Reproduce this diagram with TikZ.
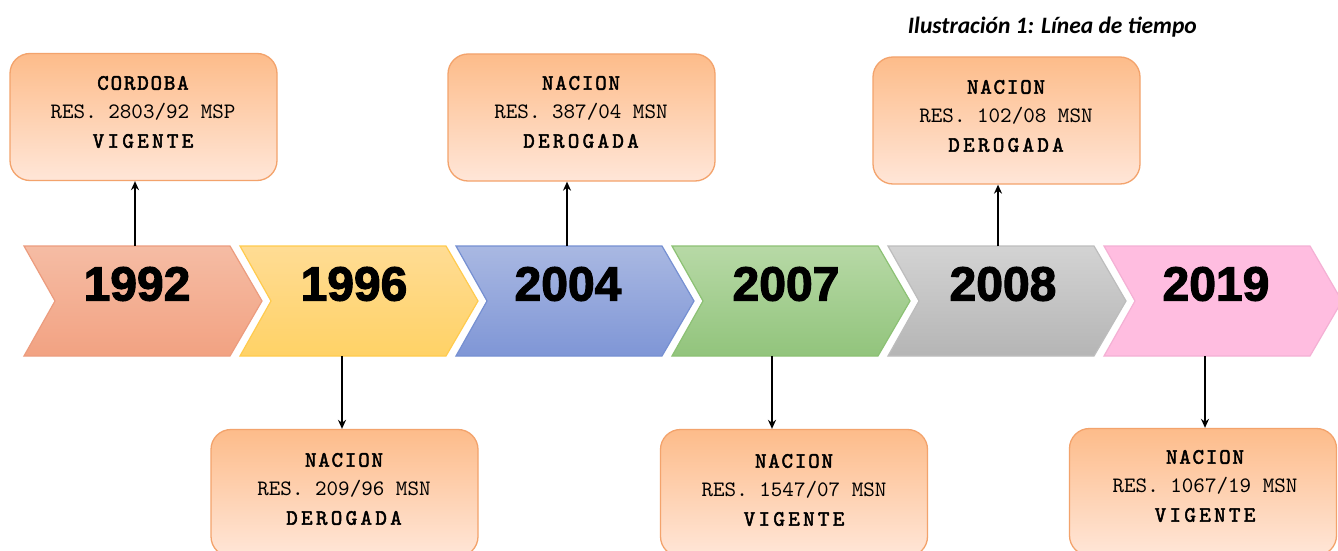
\documentclass[tikz,border=0pt]{standalone}
\usepackage{fontspec}
\setmainfont{Liberation Serif}
\newfontfamily\yearfont[BoldFeatures={FakeBold=2.4}]{Liberation Sans}
\newfontfamily\boxfont[Extension=.otf,BoldFont=lmmono10-regular,BoldFeatures={FakeBold=2.2}]{lmmono10-regular}
\newfontfamily\capfont{Carlito}
\usetikzlibrary{arrows.meta}
\definecolor{boxtop}{HTML}{FDBC8A}
\definecolor{boxbot}{HTML}{FFE6D8}
\definecolor{boxline}{HTML}{F3A36C}
\tikzset{
  infobox/.style={draw=boxline, line width=1.3pt, rounded corners=20pt, top color=boxtop, bottom color=boxbot, minimum width=267pt, minimum height=127pt, inner sep=0pt},
  infotext/.style={align=center, font=\boxfont\fontsize{22}{29}\selectfont, inner sep=0pt, text=black},
  yeartext/.style={font=\yearfont\bfseries\fontsize{48}{50}\selectfont, inner sep=0pt, text=black},
  conn/.style={line width=1.9pt, -{Stealth[length=9pt,width=8pt]}},
  chev/.style={line width=1.2pt}
}
\newcommand{\hd}[1]{{\bfseries\addfontfeatures{LetterSpace=8}#1}}
\newcommand{\st}[1]{{\bfseries\addfontfeatures{LetterSpace=15}#1}}
\begin{document}
\begin{tikzpicture}[x=1pt,y=-1pt]
\useasboundingbox (0,0) rectangle (1338,551);
\clip (0,0) rectangle (1338,551);
\fill[white] (0,0) rectangle (1338,551);
% chevrons: left x0, width 238, point depth 32
\foreach \x/\ct/\cb/\cl in {24/F5BCA4/F2A282/EC9C7E, 240/FFDC94/FFD266/FFCB4E, 456/A9B8E2/7F96D6/7690D2, 672/B7D9A6/92C47C/8CC174, 888/D3D3D3/B5B5B5/BDBDBD, 1104/FFBDE0/FFBDE0/F4B0D4}{
  \definecolor{ct}{HTML}{\ct}\definecolor{cb}{HTML}{\cb}\definecolor{cl}{HTML}{\cl}
  \path[chev, draw=cl, top color=ct, bottom color=cb]
    (\x,246) -- ({\x+206},246) -- ({\x+238},301) -- ({\x+206},356) -- (\x,356) -- ({\x+31},301) -- cycle;
}
\node[yeartext] (y1) at (137,284) {1992};
\node[yeartext] (y2) at (354,284) {1996};
\node[yeartext] (y3) at (568,284) {2004};
\node[yeartext] (y4) at (786,284) {2007};
\node[yeartext] (y5) at (1003,284) {2008};
\node[yeartext] (y6) at (1216,284) {2019};
% arrow anchors on chevron edges
\coordinate (a1) at (135,246);
\coordinate (a2) at (342,356);
\coordinate (a3) at (567,246);
\coordinate (a4) at (772,356);
\coordinate (a5) at (998,246);
\coordinate (a6) at (1205,356);
% boxes
\node[infobox] (b1) at (143.5,117) {};
\node[infobox] (b2) at (344.5,493) {};
\node[infobox] (b3) at (581.5,117.5) {};
\node[infobox] (b4) at (794,493) {};
\node[infobox] (b5) at (1006.5,120.5) {};
\node[infobox] (b6) at (1203,492) {};
% texts
\node[infotext] (t1) at (143,112) {\hd{CORDOBA}\\RES. 2803/92 MSP\\\st{VIGENTE}};
\node[infotext] (t2) at (344,489) {\hd{NACION}\\RES. 209/96 MSN\\\st{DEROGADA}};
\node[infotext] (t3) at (581,112) {\hd{NACION}\\RES. 387/04 MSN\\\st{DEROGADA}};
\node[infotext] (t4) at (794,490) {\hd{NACION}\\RES. 1547/07 MSN\\\st{VIGENTE}};
\node[infotext] (t5) at (1006,116) {\hd{NACION}\\RES. 102/08 MSN\\\st{DEROGADA}};
\node[infotext] (t6) at (1205,486) {\hd{NACION}\\RES. 1067/19 MSN\\\st{VIGENTE}};
% connectors
\draw[conn] (a1) -- (a1 |- b1.south);
\draw[conn] (a3) -- (a3 |- b3.south);
\draw[conn] (a5) -- (a5 |- b5.south);
\draw[conn] (a2) -- (a2 |- b2.north);
\draw[conn] (a4) -- (a4 |- b4.north);
\draw[conn] (a6) -- (a6 |- b6.north);
% caption
\node[font=\capfont\bfseries\itshape\fontsize{23.5}{26}\selectfont, inner sep=0pt, anchor=east] (cap) at (1197,27) {Ilustración 1: Línea de tiempo};
\end{tikzpicture}
\end{document}
